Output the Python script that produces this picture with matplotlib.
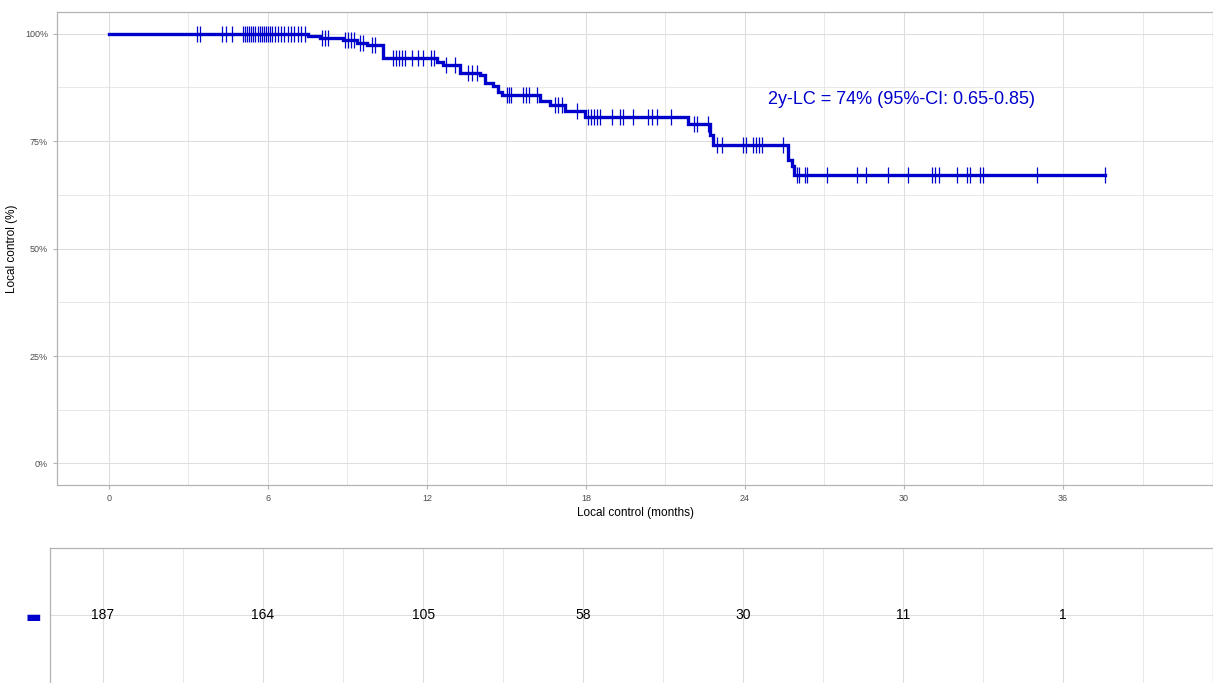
import numpy as np
import matplotlib
matplotlib.use('Agg')
import matplotlib.pyplot as plt

plt.rcParams['font.family'] = ['Liberation Sans', 'DejaVu Sans']

BLUE = '#0000CC'
GRID = '#DEDEDE'
BORDER = '#B3B3B3'
TICKTXT = '#4D4D4D'

# Kaplan-Meier steps (months, survival)
event_months = [7.51, 7.96, 8.83, 9.36, 9.74, 10.34, 12.38, 12.60, 13.25, 14.00,
                14.19, 14.49, 14.68, 14.83, 16.26, 16.64, 17.21, 17.96, 21.85,
                22.68, 22.79, 25.62, 25.77, 25.85]
surv_after = [0.995, 0.989, 0.984, 0.978, 0.973, 0.944, 0.933, 0.926, 0.909, 0.903,
              0.886, 0.878, 0.865, 0.856, 0.842, 0.833, 0.819, 0.805, 0.790,
              0.765, 0.740, 0.706, 0.691, 0.671]
last_followup = 37.58

censor_months = [3.32, 3.43, 4.26, 4.42, 4.64, 5.06, 5.13, 5.21, 5.28, 5.36, 5.43,
                 5.51, 5.62, 5.70, 5.77, 5.85, 5.92, 6.00, 6.08, 6.15, 6.26, 6.38,
                 6.49, 6.60, 6.75, 6.87, 6.98, 7.13, 7.25, 7.40, 8.04, 8.15, 8.26,
                 8.91, 9.02, 9.13, 9.25, 9.47, 9.58, 9.92, 10.04, 10.72, 10.83,
                 10.94, 11.06, 11.17, 11.43, 11.66, 11.85, 12.15, 12.26, 12.72,
                 13.06, 13.55, 13.70, 13.89, 15.02, 15.09, 15.17, 15.62, 15.74,
                 15.85, 16.15, 16.83, 16.94, 17.09, 17.66, 18.08, 18.19, 18.30,
                 18.42, 18.53, 18.98, 19.28, 19.40, 19.77, 20.34, 20.49, 20.68,
                 21.21, 22.08, 22.19, 22.60, 22.94, 23.13, 23.92, 24.04, 24.30,
                 24.42, 24.53, 24.64, 25.43, 25.96, 26.04, 26.26, 26.34, 27.09,
                 28.23, 28.57, 29.40, 30.15, 31.06, 31.17, 31.32, 32.00, 32.38,
                 32.49, 32.87, 32.98, 35.02, 37.58]

risk_times = [0, 6, 12, 18, 24, 30, 36]
risk_counts = [187, 164, 105, 58, 30, 11, 1]

annot = '2y-LC = 74% (95%-CI: 0.65-0.85)'


def light(ax):
    for s in ax.spines.values():
        s.set_color(BORDER)
        s.set_linewidth(0.9)
    ax.tick_params(colors=BORDER, labelcolor=TICKTXT, length=3, width=0.8)
    ax.tick_params(which='minor', length=0)
    ax.grid(which='major', color=GRID, linewidth=0.8)
    ax.grid(which='minor', color=GRID, linewidth=0.5)
    ax.set_axisbelow(True)


fig = plt.figure(figsize=(12.13, 6.83), dpi=100, facecolor='white')
ax = fig.add_axes([0.047, 0.2899, 0.953, 0.6925])
light(ax)

xs = [0] + event_months + [last_followup]
ys = [1.0] + surv_after + [surv_after[-1]]
ax.step(xs, ys, where='post', color=BLUE, lw=2.4, solid_joinstyle='miter', zorder=3)

idx = np.searchsorted(event_months, censor_months, side='right')
cy = np.concatenate([[1.0], surv_after])[idx]
ax.plot(censor_months, cy, ls='none', marker='|', ms=12, mew=0.9, color=BLUE, zorder=4)

ax.set_xticks(risk_times)
ax.set_xticks(np.arange(3, 40, 6), minor=True)
ax.set_yticks([0, 0.25, 0.5, 0.75, 1.0], ['0%', '25%', '50%', '75%', '100%'])
ax.set_yticks([0.125, 0.375, 0.625, 0.875], minor=True)
ax.set_xlim(-1.96, 41.66)
ax.set_ylim(-0.05, 1.05)
ax.tick_params(labelsize=6.5)
ax.set_xlabel('Local control (months)', fontsize=8.5, labelpad=3)
ax.set_ylabel('Local control (%)', fontsize=8.5)
ax.yaxis.set_label_coords(-0.034, 0.5)
ax.text(24.87, 0.846, annot, color=BLUE, fontsize=13, ha='left', va='center')

# number at risk table
rt = fig.add_axes([0.0412, -0.005, 0.9588, 0.2027])
light(rt)
rt.set_xticks(risk_times)
rt.set_xticks(np.arange(3, 40, 6), minor=True)
rt.set_xlim(-1.99, 41.62)
rt.set_ylim(0, 1.94)
rt.tick_params(axis='x', labelbottom=False, length=0)
rt.set_yticks([1.0], ['▬'])
rt.tick_params(axis='y', length=0, labelsize=12, pad=6)
rt.get_yticklabels()[0].set_color(BLUE)
rt.get_yticklabels()[0].set_family('DejaVu Sans')
for t, n in zip(risk_times, risk_counts):
    rt.text(t, 1.0, str(n), ha='center', va='center', fontsize=10, color='black')

fig.savefig('out.png', dpi=100, facecolor='white')
